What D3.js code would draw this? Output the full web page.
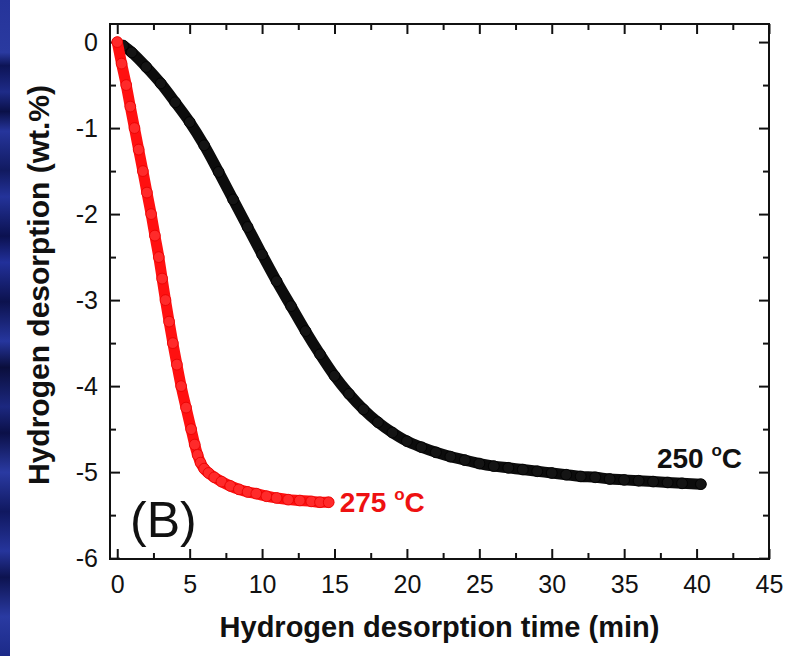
<!DOCTYPE html>
<html>
<head>
<meta charset="utf-8">
<script src="https://cdn.jsdelivr.net/npm/d3@7/dist/d3.min.js"></script>
<style>
  html, body { margin: 0; padding: 0; background: #ffffff; }
  svg { display: block; }
  text { font-family: "Liberation Sans", Arial, Helvetica, sans-serif; }
</style>
</head>
<body>
<svg id="chart" width="789" height="656"></svg>
<script>
// Desorption at 250 °C: [time (min), hydrogen desorption (wt.%)]
const series250 = [
  [0.4, -0.04], [1, -0.12], [2, -0.29], [3, -0.48], [4, -0.7], [5, -0.93],
  [6, -1.2], [7, -1.51], [8, -1.83], [9, -2.15], [10, -2.47], [11, -2.78],
  [12, -3.07], [13, -3.36], [14, -3.63], [15, -3.88], [16, -4.09], [17, -4.27],
  [18, -4.42], [19, -4.54], [20, -4.64], [21, -4.71], [22, -4.77], [23, -4.82],
  [24, -4.86], [25, -4.9], [26, -4.93], [27, -4.95], [28, -4.97], [29, -4.99],
  [30, -5.01], [31, -5.03], [32, -5.05], [33, -5.06], [34, -5.08], [35, -5.09],
  [36, -5.1], [37, -5.11], [38, -5.12], [39, -5.13], [40.3, -5.14]
];

// Desorption at 275 °C: [time (min), hydrogen desorption (wt.%)]
const series275 = [
  [0, 0], [0.3, -0.25], [0.62, -0.5], [0.9, -0.75], [1.19, -1.0], [1.48, -1.25],
  [1.77, -1.5], [2.05, -1.75], [2.34, -2.0], [2.6, -2.25], [2.87, -2.5],
  [3.1, -2.75], [3.33, -3.0], [3.58, -3.25], [3.84, -3.5], [4.12, -3.75],
  [4.41, -4.0], [4.75, -4.25], [5.1, -4.5], [5.35, -4.68], [5.55, -4.8],
  [5.75, -4.89], [6.0, -4.96], [6.3, -5.01], [6.7, -5.06], [7.2, -5.11],
  [7.8, -5.16], [8.4, -5.2], [9.0, -5.23], [9.6, -5.25], [10.3, -5.28],
  [11.0, -5.3], [11.8, -5.32], [12.6, -5.33], [13.4, -5.34], [14.0, -5.35],
  [14.6, -5.35]
];

const seriesLabels = ["250", "275"];
const xMajorTicks = [0, 5, 10, 15, 20, 25, 30, 35, 40, 45];
const xMinorTicks = [2.5, 7.5, 12.5, 17.5, 22.5, 27.5, 32.5, 37.5, 42.5];
const yMajorTicks = [0, -1, -2, -3, -4, -5, -6];
const yMinorTicks = [-0.5, -1.5, -2.5, -3.5, -4.5, -5.5];

const svg = d3.select("#chart");
const W = 789, H = 656;

// blue slide edge on the far left
const defs = svg.append("defs");
const grad = defs.append("linearGradient")
  .attr("id", "edge").attr("x1", 0).attr("y1", 0).attr("x2", 0).attr("y2", 1);
const edgeStops = [
  [0, "#26349a"], [0.08, "#2a3aa0"], [0.1, "#0d1456"], [0.14, "#1e2b88"],
  [0.17, "#0a1048"], [0.2, "#26359c"], [0.26, "#111a60"], [0.3, "#24339a"],
  [0.36, "#0b1150"], [0.4, "#22309a"], [0.46, "#0c124e"], [0.52, "#26369e"],
  [0.56, "#0a0e3c"], [0.62, "#1c2880"], [0.66, "#0b1048"], [0.72, "#2a3aa2"],
  [0.78, "#101860"], [0.84, "#26359c"], [0.88, "#0d1350"], [0.94, "#2a3aa2"],
  [1, "#1c2a88"]
];
edgeStops.forEach(s => grad.append("stop").attr("offset", s[0]).attr("stop-color", s[1]));
svg.append("rect").attr("x", 0).attr("y", 0).attr("width", 10).attr("height", H)
  .attr("fill", "url(#edge)");

const m = { left: 110, right: 769, top: 24, bottom: 559 };

const x = d3.scaleLinear().domain([-0.5, 45]).range([m.left, m.right]);
const y = d3.scaleLinear().domain([-6.01, 0.21]).range([m.bottom, m.top]);

// axes with inward ticks on all four sides
function styleAxis(g) {
  g.select(".domain").remove();
  g.selectAll(".tick line").attr("stroke", "#111").attr("stroke-width", 2);
  g.selectAll(".tick text")
    .attr("fill", "#111")
    .style("font-size", "25px");
}

const gx = svg.append("g").attr("transform", `translate(0,${m.bottom})`)
  .call(d3.axisBottom(x).tickValues(xMajorTicks).tickSize(-10).tickPadding(16)
    .tickFormat(d3.format("d")));
styleAxis(gx);
svg.append("g").attr("transform", `translate(0,${m.bottom})`)
  .call(d3.axisBottom(x).tickValues(xMinorTicks).tickSize(-6).tickFormat(""))
  .call(styleAxis);
svg.append("g").attr("transform", `translate(0,${m.top})`)
  .call(d3.axisTop(x).tickValues(xMajorTicks).tickSize(-10).tickFormat(""))
  .call(styleAxis);
svg.append("g").attr("transform", `translate(0,${m.top})`)
  .call(d3.axisTop(x).tickValues(xMinorTicks).tickSize(-6).tickFormat(""))
  .call(styleAxis);

const gy = svg.append("g").attr("transform", `translate(${m.left},0)`)
  .call(d3.axisLeft(y).tickValues(yMajorTicks).tickSize(-10).tickPadding(12)
    .tickFormat(d => d === 0 ? "0" : "-" + Math.abs(d)));
styleAxis(gy);
svg.append("g").attr("transform", `translate(${m.left},0)`)
  .call(d3.axisLeft(y).tickValues(yMinorTicks).tickSize(-6).tickFormat(""))
  .call(styleAxis);
svg.append("g").attr("transform", `translate(${m.right},0)`)
  .call(d3.axisRight(y).tickValues(yMajorTicks).tickSize(-10).tickFormat(""))
  .call(styleAxis);
svg.append("g").attr("transform", `translate(${m.right},0)`)
  .call(d3.axisRight(y).tickValues(yMinorTicks).tickSize(-6).tickFormat(""))
  .call(styleAxis);

// plot frame
svg.append("rect")
  .attr("x", m.left).attr("y", m.top)
  .attr("width", m.right - m.left).attr("height", m.bottom - m.top)
  .attr("fill", "none").attr("stroke", "#111").attr("stroke-width", 2);

// dense scatter series: a thick trace with circle markers on top
const line = d3.line().x(d => x(d[0])).y(d => y(d[1])).curve(d3.curveMonotoneX);

function drawSeries(data, lineColor, fill, stroke) {
  const g = svg.append("g");
  g.append("path").datum(data)
    .attr("d", line)
    .attr("fill", "none")
    .attr("stroke", lineColor)
    .attr("stroke-width", 11)
    .attr("stroke-linecap", "round")
    .attr("stroke-linejoin", "round");
  g.selectAll("circle").data(data).join("circle")
    .attr("cx", d => x(d[0]))
    .attr("cy", d => y(d[1]))
    .attr("r", 5.4)
    .attr("fill", fill)
    .attr("stroke", stroke)
    .attr("stroke-width", 0.8);
}

drawSeries(series250, "#0c0c0c", "#141414", "#000000");
drawSeries(series275, "#ff1010", "#ff2a2a", "#e60000");

// series labels next to the end of each trace
function tempLabel(text, xPos, yPos, color) {
  const t = svg.append("text")
    .attr("x", xPos).attr("y", yPos)
    .attr("fill", color)
    .style("font-size", "28px")
    .style("font-weight", "bold");
  t.append("tspan").text(text + " ");
  t.append("tspan").text("o").style("font-size", "17px").attr("dy", -12);
  t.append("tspan").text("C").attr("dy", 12);
}
const end250 = series250[series250.length - 1];
const end275 = series275[series275.length - 1];
tempLabel(seriesLabels[0], x(end250[0]) - 44, y(end250[1]) - 16, "#111");
tempLabel(seriesLabels[1], x(end275[0]) + 11, y(end275[1]) + 10, "#ee1111");

// panel label
svg.append("text")
  .attr("x", 130).attr("y", 537)
  .attr("fill", "#111")
  .style("font-size", "50px")
  .text("(B)");

// axis titles
svg.append("text")
  .attr("x", (m.left + m.right) / 2).attr("y", 637)
  .attr("text-anchor", "middle")
  .attr("fill", "#111")
  .style("font-size", "29px").style("font-weight", "bold")
  .text("Hydrogen desorption time (min)");

svg.append("text")
  .attr("transform", `translate(49,285) rotate(-90)`)
  .attr("text-anchor", "middle")
  .attr("fill", "#111")
  .style("font-size", "30px").style("font-weight", "bold")
  .text("Hydrogen desorption (wt.%)");
</script>
</body>
</html>
